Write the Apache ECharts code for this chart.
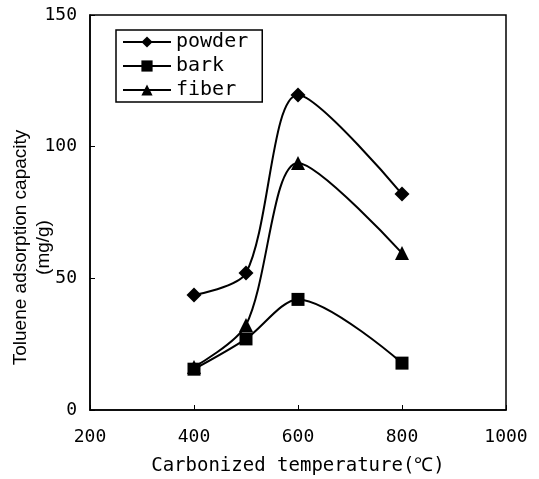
<!DOCTYPE html>
<html>
<head>
<meta charset="utf-8">
<script src="https://cdn.jsdelivr.net/npm/echarts@6/dist/echarts.min.js"></script>
<style>
  html, body { margin: 0; padding: 0; background: #fff; }
  #chart { width: 539px; height: 479px; }
</style>
</head>
<body>
<div id="chart"></div>
<script>
    // temperatures (℃) and capacities (mg/g)
    const temps = [400, 500, 600, 800];
    const powder = [43.7, 52, 119.6, 82];
    const bark = [15.5, 27, 42, 17.8];
    const fiber = [16.3, 32.3, 93.8, 59.6];

    const xTicks = [200, 400, 600, 800, 1000];
    const yTicks = [0, 50, 100, 150];

    function pairs(vals) {
        return temps.map(function (t, i) { return [t, vals[i]]; });
    }

    const mono = 'DejaVu Sans Mono';
    let myChart = echarts.init(document.getElementById('chart'));

    function makeSeries(name, symbol, size, vals) {
        return {
            name: name,
            type: 'line',
            smooth: 0.3,
            symbol: symbol,
            symbolSize: size,
            lineStyle: {color: '#000', width: 2},
            itemStyle: {color: '#000'},
            data: pairs(vals)
        };
    }

    myChart.setOption({
        animation: false,
        backgroundColor: '#fff',
        grid: {
            left: 90,
            right: 33,
            top: 15,
            bottom: 69,
            containLabel: false,
            outerBoundsMode: 'none',
            show: true,
            borderColor: '#000',
            borderWidth: 1.5
        },
        legend: {
            left: 116,
            top: 30,
            orient: 'vertical',
            itemWidth: 48,
            itemHeight: 14,
            itemGap: 4,
            padding: [2, 14, 2, 6],
            borderColor: '#000',
            borderWidth: 1.5,
            textStyle: {fontFamily: mono, fontSize: 20, color: '#000'},
            data: ['powder', 'bark', 'fiber']
        },
        xAxis: {
            type: 'value',
            min: xTicks[0],
            max: xTicks[xTicks.length - 1],
            interval: 200,
            name: 'Carbonized temperature(℃)',
            nameLocation: 'middle',
            nameGap: 47,
            nameMoveOverlap: false,
            nameTextStyle: {fontFamily: mono, fontSize: 19, color: '#000'},
            axisLine: {lineStyle: {color: '#000', width: 1.5}},
            axisTick: {inside: true, length: 5, lineStyle: {color: '#000'}},
            axisLabel: {fontFamily: mono, fontSize: 18, color: '#000', margin: 18,
                formatter: function (v) { return String(v); }},
            splitLine: {show: false}
        },
        yAxis: {
            type: 'value',
            min: yTicks[0],
            max: yTicks[yTicks.length - 1],
            interval: 50,
            name: 'Toluene adsorption capacity\n(mg/g)',
            nameLocation: 'middle',
            nameGap: 35,
            nameMoveOverlap: false,
            nameTextStyle: {fontFamily: 'Liberation Sans', fontSize: 19, color: '#000', lineHeight: 23, padding: [0, 70, 0, 0]},
            axisLine: {lineStyle: {color: '#000', width: 1.5}},
            axisTick: {inside: true, length: 5, lineStyle: {color: '#000'}},
            axisLabel: {fontFamily: mono, fontSize: 18, color: '#000', margin: 13,
                formatter: function (v) { return String(v); }},
            splitLine: {show: false}
        },
        series: [
            makeSeries('powder', 'diamond', 15, powder),
            makeSeries('bark', 'rect', 13, bark),
            makeSeries('fiber', 'triangle', 14, fiber)
        ]
    });
</script>
</body>
</html>
